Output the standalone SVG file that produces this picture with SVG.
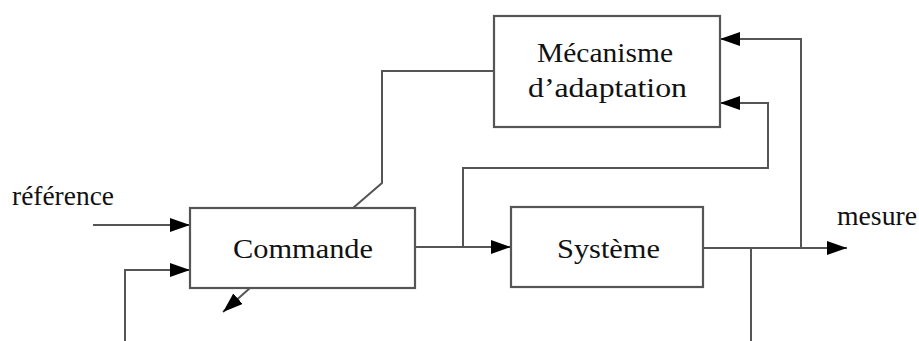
<svg xmlns="http://www.w3.org/2000/svg" width="919" height="341" viewBox="0 0 919 341">
<style>
.box{fill:#fff;stroke:#555;stroke-width:2.2}
.ln{fill:none;stroke:#555;stroke-width:2}
.t{font-family:"Liberation Serif","DejaVu Serif",serif;font-size:27px;fill:#111}
</style>
<defs>
<marker id="ah" markerUnits="userSpaceOnUse" markerWidth="22" markerHeight="16" refX="20" refY="7" orient="auto">
<path d="M0,0 L20,7 L0,14 Z" fill="#000"/>
</marker>
</defs>
<g id="connectors">
<path class="ln" d="M93,225 H190" marker-end="url(#ah)"/>
<path class="ln" d="M125,341 V270 H190" marker-end="url(#ah)"/>
<path class="ln" d="M250,288 L223,312" marker-end="url(#ah)"/>
<path class="ln" d="M494,71 H382 V183 L353,208"/>
<path class="ln" d="M415,247 H511" marker-end="url(#ah)"/>
<path class="ln" d="M463,247 V168 H768 V103 H720" marker-end="url(#ah)"/>
<path class="ln" d="M703,248 H847" marker-end="url(#ah)"/>
<path class="ln" d="M801,248 V39 H720" marker-end="url(#ah)"/>
<path class="ln" d="M751,248 V341"/>
</g>
<g id="mecanisme">
<rect class="box" x="494" y="16" width="226" height="111"/>
<text class="t" x="537" y="62" textLength="136" lengthAdjust="spacingAndGlyphs">Mécanisme</text>
<text class="t" x="528" y="97" textLength="159" lengthAdjust="spacingAndGlyphs">d’adaptation</text>
</g>
<g id="commande">
<rect class="box" x="190" y="208" width="225" height="80"/>
<text class="t" x="233" y="258" textLength="140" lengthAdjust="spacingAndGlyphs">Commande</text>
</g>
<g id="systeme">
<rect class="box" x="511" y="207" width="192" height="80"/>
<text class="t" x="557" y="258" textLength="103" lengthAdjust="spacingAndGlyphs">Système</text>
</g>
<g id="labels">
<text class="t" x="12" y="205" textLength="102" lengthAdjust="spacingAndGlyphs">référence</text>
<text class="t" x="837" y="225" textLength="80" lengthAdjust="spacingAndGlyphs">mesure</text>
</g>
</svg>
